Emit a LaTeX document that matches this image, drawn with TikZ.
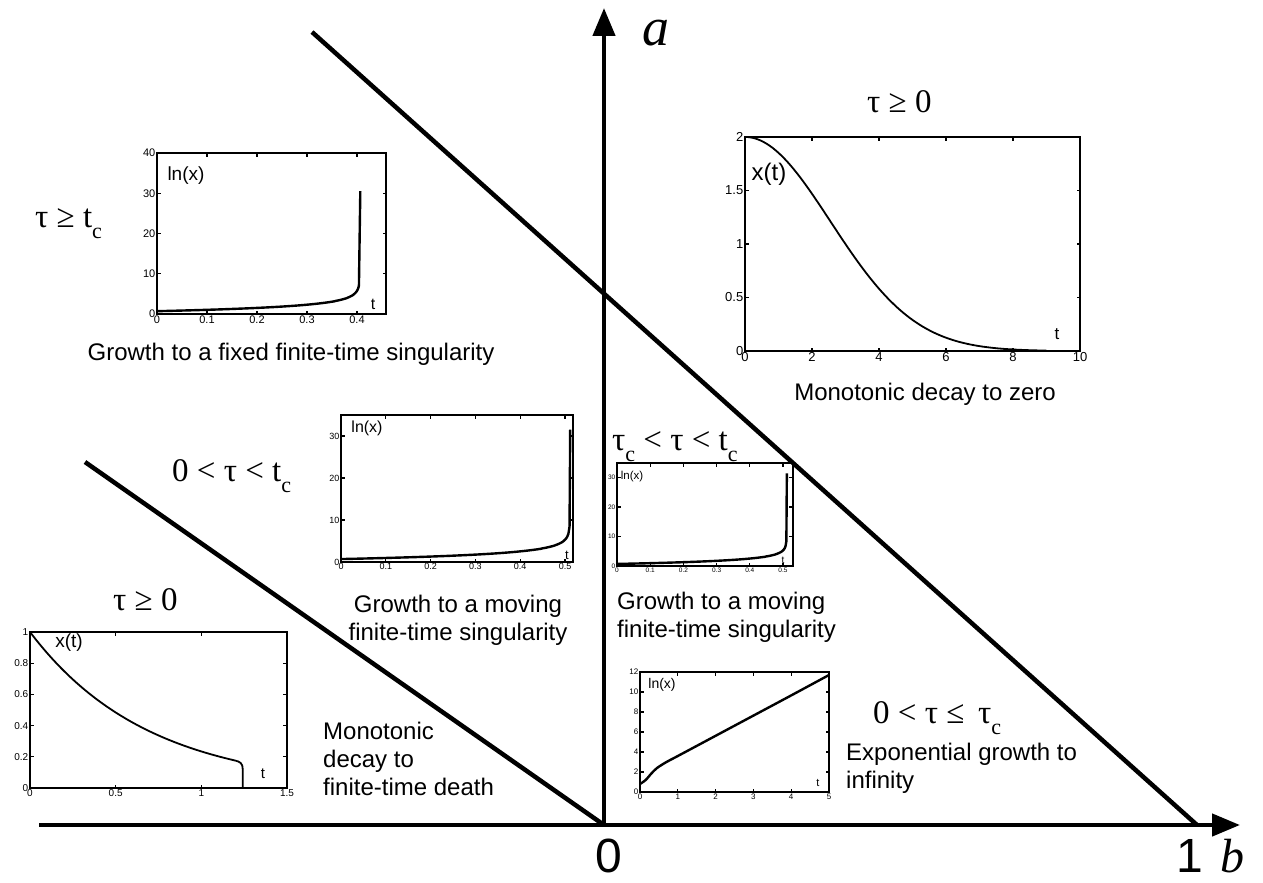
\documentclass[tikz,border=0pt]{standalone}
\usepackage{fontspec}
\setmainfont{Liberation Serif}
\newfontfamily\arial{Liberation Sans}
\usetikzlibrary{arrows.meta}
\newcommand\subc{\raisebox{-11pt}{\fontsize{22}{22}\selectfont c}}
\tikzset{
  axisline/.style={line width=4.5pt,-{Triangle[length=28pt,width=22pt]}},
  boundary/.style={line width=4.5pt},
  frame/.style={line width=1.3pt},
  curve/.style={line width=1.8pt},
  lncurve/.style={line width=2.4pt},
  ticklab/.style={inner sep=1.5pt},
  taulabel/.style={font=\fontsize{33}{33}\selectfont,inner sep=0pt,anchor=base west},
  caption/.style={font=\arial\fontsize{24}{28}\selectfont,inner sep=0pt},
  inlab/.style={inner sep=0pt},
}
\newcommand\plotframe[6]{%
  \draw[frame] (0,0) rectangle (#1,#2);
  \foreach \tk [count=\i] in {#3} {
    \draw[frame] (\tk,0) -- ++(0pt,3.5pt);
    \draw[frame] (\tk,#2) -- ++(0pt,-3.5pt);
    \node[ticklab,font=\arial\fontsize{#5}{#5}\selectfont,anchor=north] (#6x\i) at (\tk,0) {\tk};
  }
  \foreach \tk [count=\i] in {#4} {
    \draw[frame] (0,\tk) -- ++(3.5pt,0pt);
    \draw[frame] (#1,\tk) -- ++(-3.5pt,0pt);
    \node[ticklab,font=\arial\fontsize{#5}{#5}\selectfont,anchor=east] (#6y\i) at (0,\tk) {\tk};
  }
}
\begin{document}
\begin{tikzpicture}[x=1pt,y=-1pt]
\useasboundingbox (0,0) rectangle (1263,883);
% axes and boundaries
\coordinate (O) at (604,825);
\coordinate (XL) at (39,825);
\coordinate (XR) at (1240,825);
\coordinate (YT) at (604,8);
\coordinate (L1a) at (312,32);
\coordinate (L1b) at (1197,825);
\coordinate (L2a) at (85,462);
\draw[axisline] (XL) -- (XR);
\draw[axisline] (O) -- (YT);
\draw[boundary] (L1a) -- (L1b);
\draw[boundary] (L2a) -- (O);
\node[font=\itshape\fontsize{54}{54}\selectfont,inner sep=0pt] (alab) at (656,33) {a};
\node[font=\itshape\fontsize{48}{48}\selectfont,inner sep=0pt] (blab) at (1232,856) {b};
\node[font=\arial\fontsize{48}{48}\selectfont,inner sep=0pt] (zlab) at (609,856) {0};
\node[font=\arial\fontsize{48}{48}\selectfont,inner sep=0pt] (olab) at (1190,856) {1};

% plot 1: fixed finite-time singularity
\begin{scope}[shift={(157,314)},x=500pt,y=4.025pt]
  \plotframe{0.458}{40}{0,0.1,0.2,0.3,0.4}{0,10,20,30,40}{11}{pa}
  \draw[lncurve] plot[domain=0:0.4056,samples=200] (\x,{0.7-1.2*ln(1-\x/0.406)}) -- (0.4066,30.5);
\end{scope}
\node[inlab,font=\arial\fontsize{19}{19}\selectfont] (pal) at (186,176) {ln(x)};
\node[inlab,font=\arial\fontsize{16}{16}\selectfont] (pat) at (373,304) {t};
\node[taulabel] (t1) at (35,227) {τ ≥ t\subc};
\node[caption,anchor=base] (c1) at (291,360) {Growth to a fixed finite-time singularity};

% plot 2: monotonic decay to zero
\begin{scope}[shift={(745,351)},x=33.5pt,y=107pt]
  \plotframe{10}{2}{0,2,4,6,8,10}{0,0.5,1,1.5,2}{13}{pb}
  \draw[curve] plot[domain=0:9,samples=100] (\x,{2*exp(0-(\x/3.6)*(\x/3.6))});
\end{scope}
\node[inlab,font=\arial\fontsize{24}{24}\selectfont] (pbl) at (769,174) {x(t)};
\node[inlab,font=\arial\fontsize{17}{17}\selectfont] (pbt) at (1057,334) {t};
\node[taulabel] (t2) at (867,112) {τ ≥ 0};
\node[caption,anchor=base] (c2) at (925,400) {Monotonic decay to zero};

% plot 3: moving singularity
\begin{scope}[shift={(341,562)},x=448pt,y=4.2pt]
  \plotframe{0.518}{35}{0,0.1,0.2,0.3,0.4,0.5}{0,10,20,30}{9}{pc}
  \draw[lncurve] plot[domain=0:0.5106,samples=200] (\x,{0.7-1.2*ln(1-\x/0.511)}) -- (0.5116,31.5);
\end{scope}
\node[inlab,font=\arial\fontsize{16}{16}\selectfont] (pcl) at (367,428) {ln(x)};
\node[inlab,font=\arial\fontsize{13}{13}\selectfont] (pct) at (567,555) {t};
\node[taulabel] (t3) at (172,481) {0 < τ < t\subc};
\node[caption,anchor=north,align=center] (c3) at (458,595) {Growth to a moving\\finite-time singularity};

% plot 4: moving singularity (small)
\begin{scope}[shift={(617,566)},x=332pt,y=2.943pt]
  \plotframe{0.53}{35}{0,0.1,0.2,0.3,0.4,0.5}{0,10,20,30}{6.5}{pd}
  \draw[lncurve] plot[domain=0:0.5106,samples=200] (\x,{0.7-1.2*ln(1-\x/0.511)}) -- (0.5116,31.5);
\end{scope}
\node[inlab,font=\arial\fontsize{11.5}{11.5}\selectfont] (pdl) at (632,477) {ln(x)};
\node[inlab,font=\arial\fontsize{10}{10}\selectfont] (pdt) at (783,560) {t};
\node[taulabel] (t4) at (612,450) {τ\subc{} < τ < t\subc};
\node[caption,anchor=north west,align=left] (c4) at (617,592) {Growth to a moving\\finite-time singularity};

% plot 5: finite-time death
\begin{scope}[shift={(30,788)},x=171.3pt,y=156pt]
  \plotframe{1.5}{1}{0,0.5,1,1.5}{0,0.2,0.4,0.6,0.8,1}{10}{pe}
  \draw[curve] plot[domain=0:1.2,samples=80] (\x,{exp(-1.45*\x)}) .. controls (1.225,0.168) and (1.242,0.16) .. (1.242,0.12) -- (1.242,0);
\end{scope}
\node[inlab,font=\arial\fontsize{19}{19}\selectfont] (pel) at (69,643) {x(t)};
\node[inlab,font=\arial\fontsize{15}{15}\selectfont] (pet) at (263,774) {t};
\node[taulabel] (t5) at (113,610) {τ ≥ 0};
\node[caption,anchor=north west,align=left] (c5) at (323,722) {Monotonic\\decay to\\finite-time death};

% plot 6: exponential growth
\begin{scope}[shift={(640,792)},x=37.8pt,y=10pt]
  \plotframe{5}{12}{0,1,2,3,4,5}{0,2,4,6,8,10,12}{8}{pf}
  \draw[lncurve] plot[smooth] coordinates {(0,0.8) (0.15,1.2) (0.3,1.85) (0.45,2.4) (0.7,3.0) (1,3.6) (2,5.62) (3,7.64) (4,9.66) (5,11.7)};
\end{scope}
\node[inlab,font=\arial\fontsize{14}{14}\selectfont] (pfl) at (662,685) {ln(x)};
\node[inlab,font=\arial\fontsize{11}{11}\selectfont] (pft) at (818,783) {t};
\node[taulabel] (t6) at (873,723) {0 < τ ≤ \,τ\subc};
\node[caption,anchor=north west,align=left] (c6) at (846,743) {Exponential growth to\\infinity};
\end{tikzpicture}
\end{document}
